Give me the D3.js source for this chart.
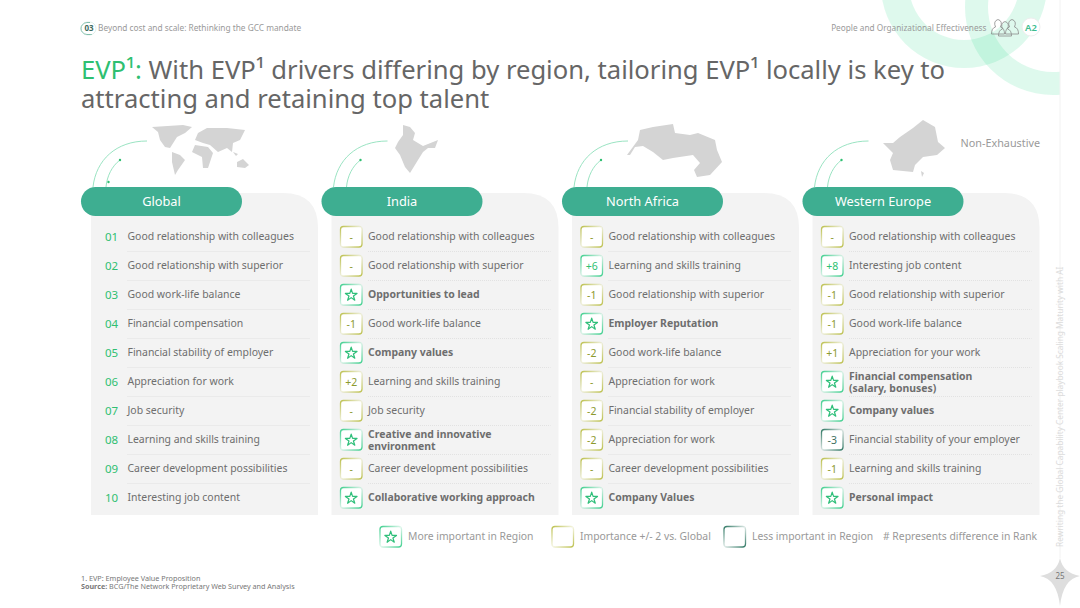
<!DOCTYPE html>
<html lang="en">
<head>
<meta charset="utf-8">
<title>EVP drivers by region</title>
<script src="https://cdn.jsdelivr.net/npm/d3@7"></script>
<style>
html, body { margin: 0; padding: 0; background: #fff; }
svg { display: block; font-family: "Noto Sans", sans-serif; }
</style>
</head>
<body>
<script>
// data
var regions = ["Global", "India", "North Africa", "Western Europe"];
var ranks = ["01", "02", "03", "04", "05", "06", "07", "08", "09", "10"];

var globalDrivers = ["Good relationship with colleagues", "Good relationship with superior", "Good work-life balance", "Financial compensation", "Financial stability of employer", "Appreciation for work", "Job security", "Learning and skills training", "Career development possibilities", "Interesting job content"];
var indiaDrivers = ["Good relationship with colleagues", "Good relationship with superior", "Opportunities to lead", "Good work-life balance", "Company values", "Learning and skills training", "Job security", "Creative and innovative|environment", "Career development possibilities", "Collaborative working approach"];
var africaDrivers = ["Good relationship with colleagues", "Learning and skills training", "Good relationship with superior", "Employer Reputation", "Good work-life balance", "Appreciation for work", "Financial stability of employer", "Appreciation for work", "Career development possibilities", "Company Values"];
var europeDrivers = ["Good relationship with colleagues", "Interesting job content", "Good relationship with superior", "Good work-life balance", "Appreciation for your work", "Financial compensation|(salary, bonuses)", "Company values", "Financial stability of your employer", "Learning and skills training", "Personal impact"];

// "*" = new entry, drawn as a star
var indiaBadges = ["-", "-", "*", "-1", "*", "+2", "-", "*", "-", "*"];
var africaBadges = ["-", "+6", "-1", "*", "-2", "-", "-2", "-2", "-", "*"];
var europeBadges = ["-", "+8", "-1", "-1", "+1", "*", "*", "-3", "-1", "*"];

var legendLabels = ["More important in Region", "Importance +/- 2 vs. Global", "Less important in Region"];
var legendKinds = ["more", "same", "less"];
var legendX = [380, 552, 724];

var driverLists = [globalDrivers, indiaDrivers, africaDrivers, europeDrivers];
var badgeLists = [null, indiaBadges, africaBadges, europeBadges];

var w = 1080, h = 608;
var green = "#2fbf71", teal = "#3eae91", grey = "#6e6e6e";
var kindColor = { more: "#3fcf8e", same: "#bcc04e", less: "#2f7763" };
var kindText = { more: "#2fbf71", same: "#8c9a2e", less: "#3f6f60" };

function kindOf(b) {
	if (b === "*") return "more";
	var n = +b;
	if (isNaN(n)) return "same";
	return n > 2 ? "more" : n < -2 ? "less" : "same";
}

var svg = d3.select("body").append("svg").attr("width", w).attr("height", h);
var defs = svg.append("defs");

Object.keys(kindColor).forEach(function(k) {
	var g = defs.append("linearGradient").attr("id", "edge-" + k)
		.attr("x1", 0).attr("y1", 0).attr("x2", 1).attr("y2", 1);
	g.append("stop").attr("offset", "0%").attr("stop-color", kindColor[k]);
	g.append("stop").attr("offset", "50%").attr("stop-color", kindColor[k]).attr("stop-opacity", 0.15);
	g.append("stop").attr("offset", "100%").attr("stop-color", kindColor[k]);
});
defs.append("clipPath").attr("id", "page").append("rect").attr("width", 1060).attr("height", h);

// background rings
var arcRing = d3.arc();
var rings = svg.append("g").attr("clip-path", "url(#page)");
[[964, -15, 55, 83], [1053, 7, 65, 88]].forEach(function(r) {
	rings.append("path")
		.attr("transform", "translate(" + r[0] + "," + r[1] + ")")
		.attr("d", arcRing({ innerRadius: r[2], outerRadius: r[3], startAngle: 0, endAngle: 2 * Math.PI }))
		.attr("fill", "#2fdc8f").attr("opacity", 0.16);
});
svg.append("line").attr("x1", 1060).attr("x2", 1060).attr("y1", 0).attr("y2", 558).attr("stroke", "#f2f2f2");

// header
svg.append("path").attr("d", "M90 22.5 H87 a6 6 0 0 0 0 12 H92").attr("fill", "none").attr("stroke", "#3e9c80").attr("stroke-width", 0.8);
svg.append("rect").attr("x", 81).attr("y", 22).attr("width", 15).attr("height", 13).attr("rx", 6.5).attr("fill", "none").attr("stroke", "#cfe6de").attr("stroke-width", 0.6);
svg.append("text").attr("x", 84.5).attr("y", 31).attr("font-size", 8).attr("font-weight", 700).attr("fill", "#3d6b5e").text("03");
svg.append("text").attr("x", 98).attr("y", 31).attr("font-size", 8.3).attr("fill", "#9a9a9a").text("Beyond cost and scale: Rethinking the GCC mandate");
svg.append("text").attr("x", 986.5).attr("y", 30.5).attr("text-anchor", "end").attr("font-size", 8.25).attr("fill", "#9a9a9a").text("People and Organizational Effectiveness");

// people icon
var people = svg.append("g").attr("fill", "none").attr("stroke", "#8a8a8a").attr("stroke-width", 0.8);
[[998, 31], [1012, 31], [1005, 33]].forEach(function(p) {
	people.append("path").attr("d", "M" + (p[0] - 6.5) + " " + (p[1] + 3) + " q0 -6 4 -7 q-2.5 -6 2.5 -7.5 q5 1.5 2.5 7.5 q4 1 4 7 z");
});
svg.append("circle").attr("cx", 1031).attr("cy", 27).attr("r", 9).attr("fill", "#fff").attr("stroke", "#eeeeee");
svg.append("text").attr("x", 1031).attr("y", 30.5).attr("text-anchor", "middle").attr("font-size", 9.5).attr("font-weight", 600).attr("fill", "#3ebd8f").text("A2");

// title
var t1 = svg.append("text").attr("x", 81).attr("y", 78.5).attr("font-size", 25.6).attr("fill", "#666");
t1.append("tspan").attr("fill", green).text("EVP¹:");
t1.append("tspan").text(" With EVP¹ drivers differing by region, tailoring EVP¹ locally is key to");
svg.append("text").attr("x", 81).attr("y", 107.5).attr("font-size", 25.6).attr("fill", "#666").text("attracting and retaining top talent");

svg.append("text").attr("x", 1040).attr("y", 147).attr("text-anchor", "end").attr("font-size", 10.8).attr("fill", "#9a9a9a").text("Non-Exhaustive");

// scales
var colX = d3.scalePoint().domain(regions).range([81, 802.5]);
var rowY = d3.scalePoint().domain(d3.range(10)).range([237, 498]);

// rough map silhouettes, in page coordinates
var mapShapes = [
	"M152 127 L183 125 L192 127 L185 133 L177 137 L170 148 L165 147 L160 140 L158 132 Z M172 152 L180 155 L185 160 L178 170 L175 175 L172 162 Z M192 152 L195 145 L208 147 L213 153 L208 168 L203 168 L202 157 Z M195 140 L198 133 L207 128 L227 128 L245 130 L240 140 L233 143 L232 152 L227 148 L218 152 L210 145 L203 143 Z M237 162 L243 159 L249 165 L245 168 L237 167 Z M233 152 L238 154 L236 156 Z",
	"M403 125 L410 127 L415 133 L413 140 L423 146 L438 140 L435 148 L428 148 L423 152 L418 160 L410 173 L405 167 L400 155 L395 148 L398 142 L403 135 Z",
	"M627 155 L638 140 L640 130 L653 127 L673 124 L675 133 L690 135 L698 133 L715 140 L717 150 L722 162 L710 175 L697 177 L694 170 L700 163 L693 155 L673 158 L663 160 L653 152 L643 146 L635 147 L630 155 Z",
	"M883 143 L893 143 L900 137 L913 128 L923 120 L935 127 L938 142 L945 148 L937 155 L923 157 L915 165 L913 172 L893 170 L890 160 L893 153 Z M921 171 L924 173 L922 177 Z"
];

var cols = svg.selectAll("g.col").data(regions).enter().append("g").attr("class", "col");

cols.each(function(name, ci) {
	var g = d3.select(this), x0 = colX(name);
	var px = x0 + 10, pw = 227;

	g.append("path").attr("d", mapShapes[ci]).attr("fill", "#d4d4d4");

	// curved connector lines
	var line = d3.path();
	line.moveTo(x0 + 12, 187);
	line.bezierCurveTo(x0 + 15, 160, x0 + 35, 141, x0 + 66, 141);
	var inner = d3.path();
	inner.moveTo(x0 + 25, 187);
	inner.bezierCurveTo(x0 + 26, 176, x0 + 31, 166, x0 + 39, 160);
	g.append("path").attr("d", line.toString()).attr("fill", "none").attr("stroke", "#8fe0bb").attr("stroke-width", 0.9);
	g.append("path").attr("d", inner.toString()).attr("fill", "none").attr("stroke", "#8fe0bb").attr("stroke-width", 0.9);
	g.append("circle").attr("cx", x0 + 39).attr("cy", 160).attr("r", 1.2).attr("fill", green);
	if (ci === 0) g.append("circle").attr("cx", x0 + 27.5).attr("cy", 182).attr("r", 1.2).attr("fill", green);

	// panel, big rounded top right only
	var r = 35;
	g.append("path")
		.attr("d", "M" + px + " 515 V193 H" + (px + pw - r) + " Q" + (px + pw) + " 193 " + (px + pw) + " " + (193 + r) + " V515 Z")
		.attr("fill", "#f3f3f3");

	g.append("rect").attr("x", x0).attr("y", 187).attr("width", 161).attr("height", 29).attr("rx", 14.5).attr("fill", teal);
	g.append("text").attr("x", x0 + 80.5).attr("y", 206).attr("text-anchor", "middle").attr("font-size", 12.8).attr("fill", "#fff").text(name);

	var drivers = driverLists[ci], badges = badgeLists[ci];
	var tx = x0 + 46.5;

	var rows = g.selectAll("g.row").data(drivers).enter().append("g").attr("class", "row")
		.attr("transform", function(d, i) { return "translate(0," + rowY(i) + ")"; });

	rows.filter(function(d, i) { return i < 9; }).append("line")
		.attr("x1", tx).attr("x2", x0 + 229).attr("y1", 14.5).attr("y2", 14.5)
		.attr("stroke", "#d6d6d6").attr("stroke-width", 0.6).attr("stroke-dasharray", "1 1");

	rows.each(function(d, i) {
		var row = d3.select(this);
		var bold = badges && badges[i] === "*";
		var parts = d.split("|");
		parts.forEach(function(p, k) {
			row.append("text")
				.attr("x", tx)
				.attr("y", parts.length > 1 ? (k === 0 ? -2.5 : 9.5) : 3.4)
				.attr("font-size", 10.45)
				.attr("font-weight", bold ? 700 : 400)
				.attr("fill", grey)
				.text(p);
		});
		if (badges) {
			drawBadge(row, x0 + 19, -10.5, badges[i], kindOf(badges[i]));
		} else {
			row.append("text").attr("x", x0 + 24).attr("y", 4).attr("font-size", 11.5).attr("fill", green).text(ranks[i]);
		}
	});
});

function drawBadge(sel, x, y, label, kind) {
	sel.append("rect").attr("x", x).attr("y", y).attr("width", 21.5).attr("height", 20.5).attr("rx", 3)
		.attr("fill", "#fff").attr("stroke", "url(#edge-" + kind + ")").attr("stroke-width", 1.3);
	if (label === "*") {
		sel.append("path")
			.attr("transform", "translate(" + (x + 10.7) + "," + (y + 10.8) + ")")
			.attr("d", d3.symbol(d3.symbolStar, 42)())
			.attr("fill", "none").attr("stroke", "#2fbf7a").attr("stroke-width", 1.2).attr("stroke-linejoin", "round");
	} else if (label) {
		sel.append("text").attr("x", x + 10.7).attr("y", y + 14.5).attr("text-anchor", "middle")
			.attr("font-size", 10.5).attr("fill", kindText[kind]).text(label);
	}
}

// legend
legendLabels.forEach(function(label, i) {
	var g = svg.append("g");
	drawBadge(g, legendX[i], 526.5, i === 0 ? "*" : "", legendKinds[i]);
	g.append("text").attr("x", legendX[i] + 28).attr("y", 540).attr("font-size", 10.35).attr("fill", "#999").text(label);
});
svg.append("text").attr("x", 883).attr("y", 540).attr("font-size", 10.35).attr("fill", "#999").text("# Represents difference in Rank");

// footnotes
svg.append("text").attr("x", 81).attr("y", 581).attr("font-size", 7.25).attr("fill", "#777").text("1. EVP: Employee Value Proposition");
var src = svg.append("text").attr("x", 81).attr("y", 589).attr("font-size", 7.2).attr("fill", "#777");
src.append("tspan").attr("font-weight", 700).text("Source: ");
src.append("tspan").text("BCG/The Network Proprietary Web Survey and Analysis");

// side text and page star
svg.append("text").attr("transform", "translate(1063,547) rotate(-90)").attr("font-size", 8.3).attr("fill", "#dcdcdc")
	.text("Rewriting the Global Capability Center playbook Scaling Maturity with AI");
svg.append("path").attr("d", "M1060 558 Q1063 573 1080 576 Q1063 579 1060 606 Q1057 579 1040 576 Q1057 573 1060 558 Z").attr("fill", "#dedede");
svg.append("text").attr("x", 1060).attr("y", 579).attr("text-anchor", "middle").attr("font-size", 8).attr("fill", "#777").text("25");
</script>
</body>
</html>
